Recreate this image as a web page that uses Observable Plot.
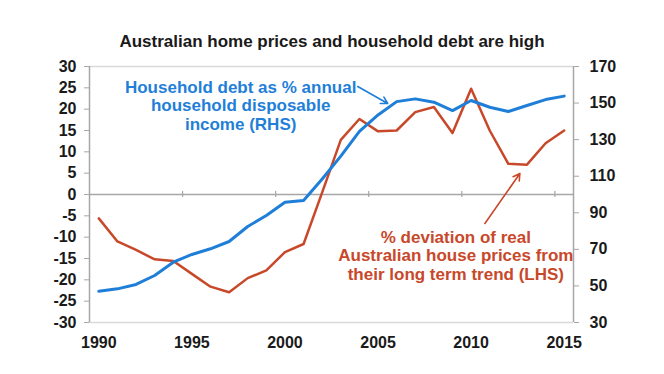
<!DOCTYPE html>
<html><head><meta charset="utf-8">
<script src="https://cdn.jsdelivr.net/npm/d3@7"></script>
<script src="https://cdn.jsdelivr.net/npm/@observablehq/plot@0.6"></script>
<style>
body{margin:0;background:#fff;font-family:"Liberation Sans",Arial,sans-serif;}
#title{width:664px;height:56px;box-sizing:border-box;padding-top:32px;line-height:20px;font-size:17px;font-weight:bold;text-align:center;color:#1a1a1a;}
</style></head><body>
<div id="title">Australian home prices and household debt are high</div>
<div id="chart"></div>
<script>
// Data
const years = [1990,1991,1992,1993,1994,1995,1996,1997,1998,1999,2000,2001,2002,2003,2004,2005,2006,2007,2008,2009,2010,2011,2012,2013,2014,2015];
// % deviation of real house prices from long term trend (LHS)
const housePriceDev = [-5.6,-11,-13,-15.2,-15.6,-18.6,-21.6,-22.9,-19.6,-17.8,-13.5,-11.6,0.5,12.8,17.7,14.8,15.0,19.3,20.5,14.4,24.8,15.0,7.2,7.0,12.0,15.0];
// Household debt as % annual household disposable income (RHS)
const debtToIncome = [47.1,48.4,50.8,55.7,63.0,67.2,70.3,74.3,82.5,88.5,95.8,96.7,108.5,121,134.5,143.5,150.8,152.3,150.5,145.9,151.4,147.7,145.4,148.7,151.9,153.8];
const leftTicks = [-30,-25,-20,-15,-10,-5,0,5,10,15,20,25,30];
const rightTicks = [30,50,70,90,110,130,150,170];
const xLabels = [1990,1995,2000,2005,2010,2015];
const xTickMarks = [1994.5,1999.5,2004.5,2009.5,2014.5];
const blueNote = "Household debt as % annual\nhousehold disposable\nincome (RHS)";
const redNote = "% deviation of real\nAustralian house prices from\ntheir long term trend (LHS)";

const blue = "#1f7fd8";
const red = "#c8482a";
// map right axis (30..170) onto left axis (-30..30)
const toLeft = v => (v - 100) * 60 / 140;
const toRight = v => v * 140 / 60 + 100;

const data = years.map((year, i) => ({year, dev: housePriceDev[i], debt: debtToIncome[i]}));

const chart = Plot.plot({
  width: 664, height: 318,
  marginTop: 10, marginBottom: 52, marginLeft: 89, marginRight: 91,
  style: {fontFamily: "'Liberation Sans', Arial, sans-serif", fontSize: "16px", fontWeight: "bold", color: "#1a1a1a", background: "#fff", overflow: "visible"},
  x: {domain: [1989.5, 2015.5]},
  y: {domain: [-30, 30]},
  marks: [
    Plot.ruleY([-30, 30], {stroke: "#d9d9d9", strokeWidth: 1.5}),
    Plot.ruleY([0], {stroke: "#a6a6a6", strokeWidth: 1.5}),
    Plot.ruleX(xTickMarks, {y1: -0.7, y2: 0.7, stroke: "#a6a6a6", strokeWidth: 1.2}),
    Plot.ruleX([1989.5, 2015.5], {stroke: "#a6a6a6", strokeWidth: 1.5}),
    Plot.axisY({anchor: "left", ticks: leftTicks, tickSize: 5, tickPadding: 8, tickFormat: d => String(d), label: null, stroke: "#a6a6a6", fill: "#1a1a1a"}),
    Plot.axisY({anchor: "right", ticks: rightTicks.map(toLeft), tickSize: 5, tickPadding: 11, tickFormat: d => String(Math.round(toRight(d))), label: null, stroke: "#a6a6a6", fill: "#1a1a1a"}),
    Plot.axisX({ticks: xLabels, tickSize: 0, tickPadding: 14, tickFormat: d => String(d), label: null, fill: "#1a1a1a"}),
    Plot.line(data, {x: "year", y: "dev", stroke: red, strokeWidth: 2.5}),
    Plot.line(data, {x: "year", y: d => toLeft(d.debt), stroke: blue, strokeWidth: 3}),
    Plot.text([blueNote], {x: 1997.62, y: 26.95, text: d => d, fill: blue, fontSize: 17, fontWeight: "bold", lineAnchor: "top", lineHeight: 1.09, textAnchor: "middle"}),
    Plot.text([redNote], {x: 2009.18, y: -8.2, text: d => d, fill: red, fontSize: 17, fontWeight: "bold", lineAnchor: "top", lineHeight: 1.09, textAnchor: "middle"}),
    Plot.arrow([{x1: 2003.91, y1: 25.31, x2: 2005.52, y2: 21.33}], {x1: "x1", y1: "y1", x2: "x2", y2: "y2", stroke: blue, strokeWidth: 1.6, headLength: 7}),
    Plot.arrow([{x1: 2010.74, y1: -6.8, x2: 2012.62, y2: 4.92}], {x1: "x1", y1: "y1", x2: "x2", y2: "y2", stroke: red, strokeWidth: 1.6, headLength: 7})
  ]
});
document.getElementById("chart").appendChild(chart);
</script></body></html>
